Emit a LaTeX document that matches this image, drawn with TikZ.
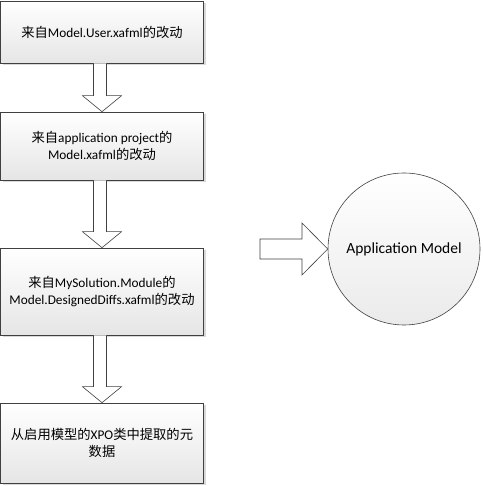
\documentclass[tikz,border=0pt]{standalone}
\usepackage{fontspec}
\setmainfont{Carlito}
\newfontfamily\cjk{Noto Sans CJK SC}
\usetikzlibrary{calc}
\begin{document}
\begin{tikzpicture}[x=1pt,y=1pt,
  flowbox/.style={draw=black!75, line width=0.6pt, top color=white, bottom color=black!10,
    minimum width=203pt, align=center, inner sep=0pt, font=\fontsize{13.3}{17}\selectfont},
  blockarrow/.style={draw=black!75, line width=0.6pt, fill=white},
  modelcircle/.style={circle, draw=black!75, line width=0.6pt, top color=white, bottom color=black!8,
    minimum size=152pt, inner sep=0pt, font=\fontsize{15.5}{18}\selectfont}
]
\useasboundingbox (0,0) rectangle (482,486);
% shadows
\fill[black!15] (2.5,420.5) rectangle (206,482.5);
\fill[black!15] (2.5,303.5) rectangle (206,371.5);
\fill[black!15] (2.5,148.5) rectangle (206,235.5);
\fill[black!15] (2.5,0.5) rectangle (206,80.5);
\node[flowbox, minimum height=62pt] (b1) at (102,454) {{\cjk 来自}Model.User.xafml{\cjk 的改动}};
\node[flowbox, minimum height=68pt] (b2) at (102,340) {{\cjk 来自}application project{\cjk 的}\\Model.xafml{\cjk 的改动}};
\node[flowbox, minimum height=87pt] (b3) at (102,194.5) {{\cjk 来自}MySolution.Module{\cjk 的}\\Model.DesignedDiffs.xafml{\cjk 的改动}};
\node[flowbox, minimum height=80pt] (b4) at (102,43) {{\cjk 从启用模型的}XPO{\cjk 类中提取的元}\\{\cjk 数据}};
\node[modelcircle] (am) at (404,237) {Application Model};
% down arrows
\foreach \a/\b in {b1/b2, b2/b3, b3/b4}{
  \draw[blockarrow] ($(\a.south)+(-8.5,0)$) -- ($(\b.north)+(-8.5,16)$) -- ($(\b.north)+(-19.5,16)$)
    -- (\b.north) -- ($(\b.north)+(19.5,16)$) -- ($(\b.north)+(4.5,16)$) -- ($(\a.south)+(4.5,0)$);
}
% right arrow
\coordinate (tail) at (260,237);
\draw[blockarrow] ($(tail)+(0,10)$) -- ($(tail)+(42,10)$) -- ($(tail)+(42,26)$) -- (am.west)
  -- ($(tail)+(42,-26)$) -- ($(tail)+(42,-10)$) -- ($(tail)+(0,-10)$) -- cycle;
\end{tikzpicture}
\end{document}
